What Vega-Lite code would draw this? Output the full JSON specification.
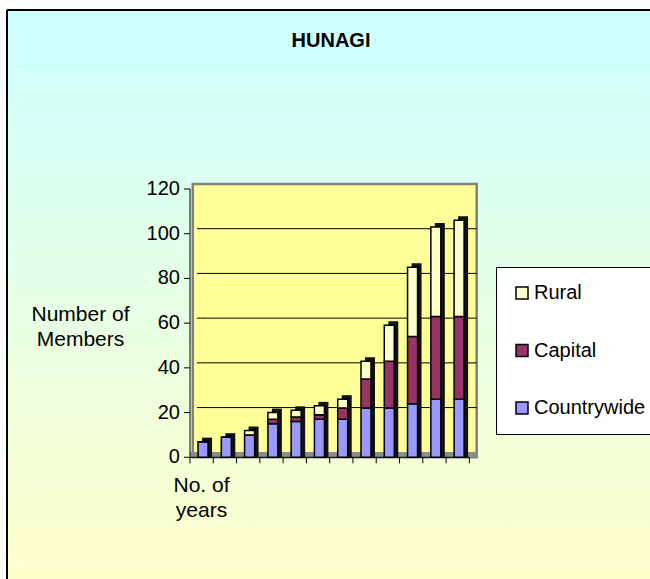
{
  "$schema": "https://vega.github.io/schema/vega-lite/v6.json",
  "width": 643,
  "height": 569,
  "autosize": {"type": "none"},
  "padding": {"left": 7, "top": 10, "right": 0, "bottom": 0},
  "background": "white",
  "config": {"font": "Liberation Sans"},
  "view": {
    "fill": {"gradient": "linear", "x1": 0, "y1": 0, "x2": 0, "y2": 1, "stops": [{"offset": 0, "color": "#CCFFFF"}, {"offset": 1, "color": "#FFFFCC"}]},
    "stroke": null
  },
  "title": {"text": "HUNAGI", "fontSize": 20, "fontWeight": "bold", "font": "Liberation Sans", "color": "black", "offset": -58, "baseline": "alphabetic", "anchor": "middle", "dx": 2.5},
  "data": {"values": [
    {"year": 1, "series": "Countrywide", "value": 7}, {"year": 1, "series": "Capital", "value": 0}, {"year": 1, "series": "Rural", "value": 0},
    {"year": 2, "series": "Countrywide", "value": 9}, {"year": 2, "series": "Capital", "value": 0}, {"year": 2, "series": "Rural", "value": 0},
    {"year": 3, "series": "Countrywide", "value": 10}, {"year": 3, "series": "Capital", "value": 0}, {"year": 3, "series": "Rural", "value": 2},
    {"year": 4, "series": "Countrywide", "value": 15}, {"year": 4, "series": "Capital", "value": 2}, {"year": 4, "series": "Rural", "value": 3},
    {"year": 5, "series": "Countrywide", "value": 16}, {"year": 5, "series": "Capital", "value": 2}, {"year": 5, "series": "Rural", "value": 3},
    {"year": 6, "series": "Countrywide", "value": 17}, {"year": 6, "series": "Capital", "value": 2}, {"year": 6, "series": "Rural", "value": 4},
    {"year": 7, "series": "Countrywide", "value": 17}, {"year": 7, "series": "Capital", "value": 5}, {"year": 7, "series": "Rural", "value": 4},
    {"year": 8, "series": "Countrywide", "value": 22}, {"year": 8, "series": "Capital", "value": 13}, {"year": 8, "series": "Rural", "value": 8},
    {"year": 9, "series": "Countrywide", "value": 22}, {"year": 9, "series": "Capital", "value": 21}, {"year": 9, "series": "Rural", "value": 16},
    {"year": 10, "series": "Countrywide", "value": 24}, {"year": 10, "series": "Capital", "value": 30}, {"year": 10, "series": "Rural", "value": 31},
    {"year": 11, "series": "Countrywide", "value": 26}, {"year": 11, "series": "Capital", "value": 37}, {"year": 11, "series": "Rural", "value": 40},
    {"year": 12, "series": "Countrywide", "value": 26}, {"year": 12, "series": "Capital", "value": 37}, {"year": 12, "series": "Rural", "value": 43}
  ]},
  "layer": [
    {
      "data": {"values": [{}]},
      "mark": {"type": "rect", "fill": "#FFFF99", "stroke": "#808080", "strokeWidth": 2.5},
      "encoding": {
        "x": {"datum": 0.62, "type": "quantitative", "axis": null,
          "scale": {"domain": [-7.3608, 20.2595], "nice": false, "zero": false, "padding": 0}},
        "x2": {"datum": 12.815},
        "y": {"datum": 0, "type": "quantitative", "axis": null,
          "scale": {"domain": [-54.43, 200.04], "nice": false, "zero": false, "padding": 0}},
        "y2": {"datum": 122.2}
      }
    },
    {
      "data": {"values": [{}]},
      "mark": {"type": "rule", "stroke": "black", "strokeWidth": 2},
      "encoding": {
        "x": {"datum": -7.3608, "type": "quantitative", "axis": null},
        "y": {"datum": -54.43, "type": "quantitative", "axis": null},
        "y2": {"datum": 200.04}
      }
    },
    {
      "data": {"values": [{}]},
      "mark": {"type": "rule", "stroke": "black", "strokeWidth": 2},
      "encoding": {
        "x": {"datum": -7.3608, "type": "quantitative", "axis": null},
        "x2": {"datum": 20.2595},
        "y": {"datum": 200.04, "type": "quantitative", "axis": null}
      }
    },
    {
      "data": {"values": [{}]},
      "mark": {"type": "rect", "fill": "#8c8c8c"},
      "encoding": {
        "x": {"datum": 0.5, "type": "quantitative", "axis": null},
        "x2": {"datum": 12.815},
        "y": {"datum": 0, "type": "quantitative", "axis": null},
        "y2": {"datum": 2.37}
      }
    },
    {
      "data": {"values": [{"grid": 20}, {"grid": 40}, {"grid": 60}, {"grid": 80}, {"grid": 100}]},
      "mark": {"type": "rule", "stroke": "black", "strokeWidth": 1, "yOffset": -5},
      "encoding": {
        "x": {"datum": 0.8, "type": "quantitative", "axis": null},
        "x2": {"datum": 12.815},
        "y": {"field": "grid", "type": "quantitative", "axis": null}
      }
    },
    {
      "data": {"values": [{}]},
      "mark": {"type": "rule", "stroke": "black", "strokeWidth": 1},
      "encoding": {
        "x": {"datum": 0.5, "type": "quantitative", "axis": null},
        "y": {"datum": 0, "type": "quantitative", "axis": null},
        "y2": {"datum": 120}
      }
    },
    {
      "data": {"values": [{}]},
      "mark": {"type": "rule", "stroke": "black", "strokeWidth": 1},
      "encoding": {
        "x": {"datum": 0.5, "type": "quantitative", "axis": null},
        "x2": {"datum": 12.5},
        "y": {"datum": 0, "type": "quantitative", "axis": null}
      }
    },
    {
      "data": {"values": [{"tick": 0}, {"tick": 20}, {"tick": 40}, {"tick": 60}, {"tick": 80}, {"tick": 100}, {"tick": 120}]},
      "layer": [
        {
          "mark": {"type": "rule", "stroke": "black", "strokeWidth": 1},
          "encoding": {
            "x": {"datum": 0.5, "type": "quantitative", "axis": null},
            "x2": {"datum": 0.242},
            "y": {"field": "tick", "type": "quantitative", "axis": null}
          }
        },
        {
          "mark": {"type": "text", "align": "right", "baseline": "middle", "dx": -10, "fontSize": 20, "font": "Liberation Sans", "color": "black"},
          "encoding": {
            "x": {"datum": 0.5, "type": "quantitative", "axis": null},
            "y": {"field": "tick", "type": "quantitative", "axis": null},
            "text": {"field": "tick", "type": "quantitative", "format": "d"}
          }
        }
      ]
    },
    {
      "data": {"values": [{"pos": 0.5}, {"pos": 1.5}, {"pos": 2.5}, {"pos": 3.5}, {"pos": 4.5}, {"pos": 5.5}, {"pos": 6.5}, {"pos": 7.5}, {"pos": 8.5}, {"pos": 9.5}, {"pos": 10.5}, {"pos": 11.5}, {"pos": 12.5}]},
      "mark": {"type": "rule", "stroke": "black", "strokeWidth": 1},
      "encoding": {
        "x": {"field": "pos", "type": "quantitative", "axis": null},
        "y": {"datum": 0, "type": "quantitative", "axis": null},
        "y2": {"datum": -2.68}
      }
    },
    {
      "data": {"values": [{}]},
      "mark": {"type": "text", "text": ["Number of", "Members"], "align": "center", "baseline": "alphabetic", "lineHeight": 25, "fontSize": 21, "font": "Liberation Sans", "color": "black"},
      "encoding": {
        "x": {"datum": -4.2036, "type": "quantitative", "axis": null},
        "y": {"datum": 61.09, "type": "quantitative", "axis": null}
      }
    },
    {
      "data": {"values": [{}]},
      "mark": {"type": "text", "text": ["No. of", "years"], "align": "center", "baseline": "alphabetic", "lineHeight": 25, "fontSize": 21, "font": "Liberation Sans", "color": "black"},
      "encoding": {
        "x": {"datum": 0.994, "type": "quantitative", "axis": null},
        "y": {"datum": -15.38, "type": "quantitative", "axis": null}
      }
    },
    {
      "mark": {"type": "bar", "width": 10, "xOffset": 5.4, "yOffset": -4, "fill": "#111111"},
      "encoding": {
        "x": {"field": "year", "type": "quantitative", "axis": null},
        "y": {"aggregate": "sum", "field": "value", "type": "quantitative", "axis": null}
      }
    },
    {
      "transform": [{"calculate": "indexof(['Countrywide','Capital','Rural'], datum.series)", "as": "stackOrder"}],
      "mark": {"type": "bar", "width": 10, "xOffset": 1.4, "stroke": "black", "strokeWidth": 1.5},
      "encoding": {
        "x": {"field": "year", "type": "quantitative", "axis": null},
        "y": {"field": "value", "type": "quantitative", "stack": "zero", "axis": null},
        "order": {"field": "stackOrder", "type": "quantitative", "sort": "ascending"},
        "color": {"field": "series", "type": "nominal",
          "scale": {"domain": ["Rural", "Capital", "Countrywide"], "range": ["#FFFFCC", "#993366", "#9999FF"]},
          "legend": {"orient": "none", "legendX": 489, "legendY": 257, "title": null, "padding": 16,
            "fillColor": "white", "strokeColor": "black",
            "symbolType": "square", "symbolSize": 144, "symbolStrokeColor": "black", "symbolStrokeWidth": 1.5, "symbolOpacity": 1,
            "labelFontSize": 20, "labelOffset": 2, "rowPadding": 37.5, "labelColor": "black", "labelFont": "Liberation Sans", "labelLimit": 300}}
      }
    }
  ]
}
